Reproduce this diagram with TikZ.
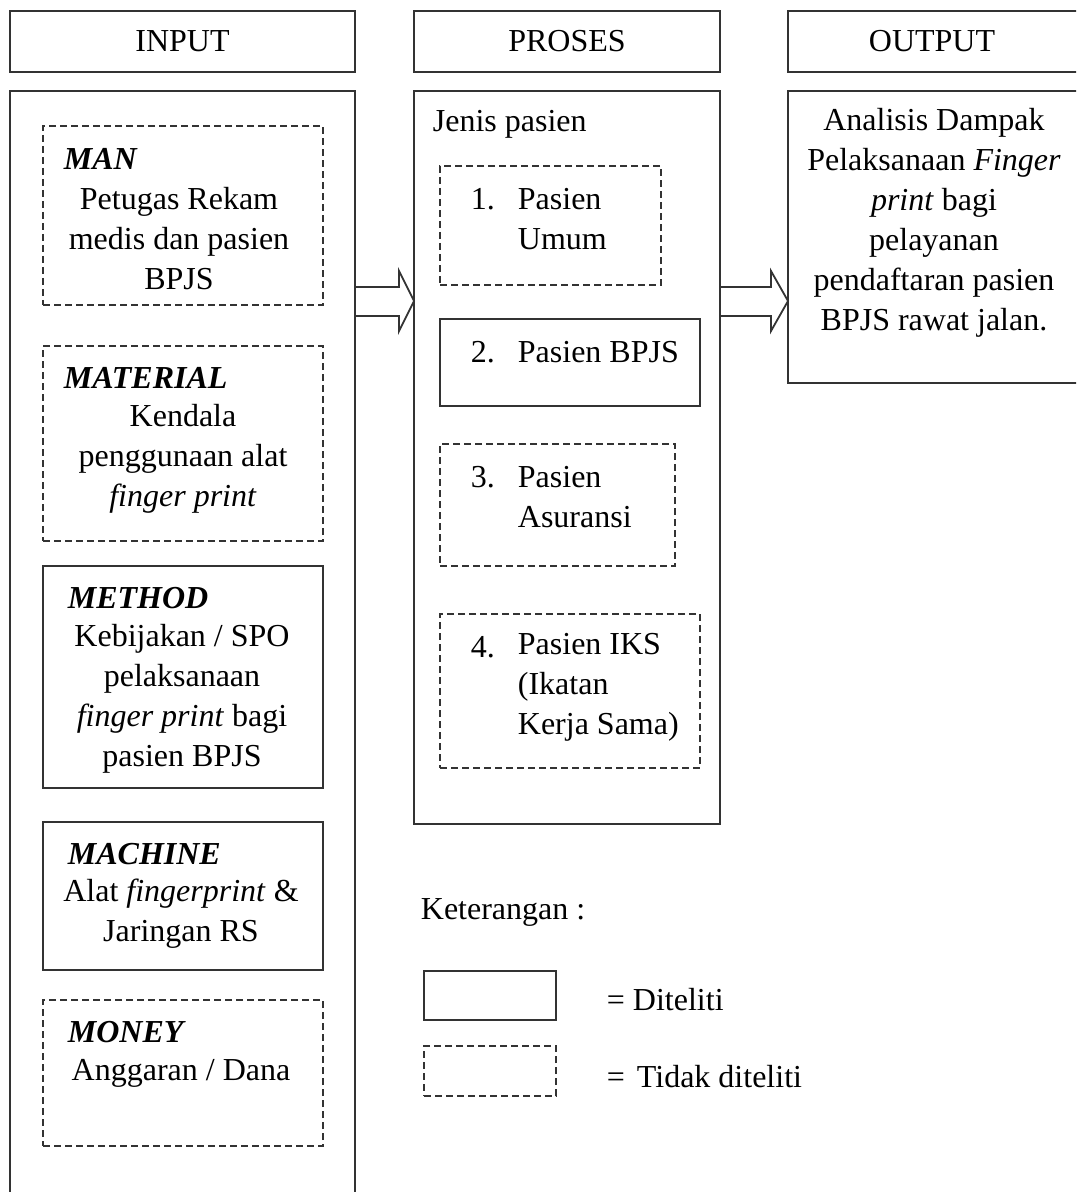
\documentclass[tikz,border=0pt]{standalone}
\usepackage{fontspec}
\setmainfont{Liberation Serif}
\begin{document}
\begin{tikzpicture}[x=0.5pt, y=-0.5pt, font=\fontsize{16pt}{20pt}\selectfont, line width=0.9pt]
      \tikzstyle{sbox} = [draw=black!80, rectangle, anchor=north west, inner sep=0pt, outer sep=0pt]
      \tikzstyle{dbox} = [sbox, dash pattern=on 3.5pt off 2pt]
      \tikzstyle{txt} = [inner sep=0pt, align=center, yshift=-1.5pt]
      \tikzstyle{ltxt} = [inner sep=0pt, align=left, anchor=west, yshift=-1.5pt]
      \tikzstyle{ttl} = [ltxt, font=\fontsize{16pt}{20pt}\selectfont\bfseries\itshape]
      \tikzstyle{blk} = [draw=black!80, line join=miter]
      \useasboundingbox (0,0) rectangle (1076,1192);
      \clip (0,0) rectangle (1076,1192);

      \node[sbox, minimum width=172.5pt, minimum height=30.5pt] (hinp) at (10,11) {INPUT};
      \node[sbox, minimum width=153pt, minimum height=30.5pt] (hpros) at (414,11) {PROSES};
      \node[sbox, minimum width=150pt, minimum height=30.5pt] (houtp) at (788,11) {\hspace{-6pt}OUTPUT};

      \node[sbox, minimum width=172.5pt, minimum height=555pt] (inp) at (10,91) {};
      \node[sbox, minimum width=153pt, minimum height=366.5pt] (pros) at (414,91) {};
      \node[sbox, minimum width=150pt, minimum height=146pt] (outp) at (788,91) {};

      \node[dbox, minimum width=140pt, minimum height=89.5pt] (man) at (43,126) {};
      \node[dbox, minimum width=140pt, minimum height=97.5pt] (mat) at (43,346) {};
      \node[sbox, minimum width=140pt, minimum height=111pt] (met) at (43,566) {};
      \node[sbox, minimum width=140pt, minimum height=74pt] (mac) at (43,822) {};
      \node[dbox, minimum width=140pt, minimum height=73pt] (mon) at (43,1000) {};

      \node[ttl] (lman) at (63,156) {MAN};
      \node[txt] (tman) at (179,236) {Petugas Rekam\\medis dan pasien\\BPJS};
      \node[ttl] (lmat) at (63,375) {MATERIAL};
      \node[txt] (tmat) at (183,456) {Kendala\\penggunaan alat\\\textit{finger print}};
      \node[ttl] (lmet) at (67,595) {METHOD};
      \node[txt] (tmet) at (182,696) {Kebijakan / SPO\\pelaksanaan\\\textit{finger print} bagi\\pasien BPJS};
      \node[ttl] (lmac) at (67,851) {MACHINE};
      \node[txt] (tmac) at (181,911) {Alat \textit{fingerprint} \&\\Jaringan RS};
      \node[ttl] (lmon) at (67,1029) {MONEY};
      \node[txt] (tmon) at (181,1070) {Anggaran / Dana};

      \node[ltxt] (jenis) at (432,121) {Jenis pasien};
      \node[dbox, minimum width=110.5pt, minimum height=59.5pt] (p1) at (440,166) {};
      \node[sbox, minimum width=130pt, minimum height=43.5pt] (p2) at (440,319) {};
      \node[dbox, minimum width=117.5pt, minimum height=61pt] (p3) at (440,444) {};
      \node[dbox, minimum width=130pt, minimum height=77pt] (p4) at (440,614) {};

      \node[ltxt] (n1) at (470,196) {1.};
      \node[ltxt] (t1) at (517,216) {Pasien\\Umum};
      \node[ltxt] (n2) at (470,349) {2.};
      \node[ltxt] (t2) at (517,349) {Pasien BPJS};
      \node[ltxt] (n3) at (470,474) {3.};
      \node[ltxt] (t3) at (517,494) {Pasien\\Asuransi};
      \node[ltxt] (n4) at (470,644) {4.};
      \node[ltxt] (t4) at (517,684) {Pasien IKS\\(Ikatan\\Kerja Sama)};

      \node[txt] (tout) at (934,220) {Analisis Dampak\\Pelaksanaan \textit{Finger}\\\textit{print} bagi\\pelayanan\\pendaftaran pasien\\BPJS rawat jalan.};

      \draw[blk] (inp.east |- 0,287) -- (399,287) -- (399,271) -- (pros.west |- 0,301) -- (399,331) -- (399,316) -- (inp.east |- 0,316);
      \draw[blk] (pros.east |- 0,287) -- (771,287) -- (771,271) -- (outp.west |- 0,301) -- (771,331) -- (771,316) -- (pros.east |- 0,316);

      \node[ltxt] (ket) at (420,909) {Keterangan :};
      \node[sbox, minimum width=66pt, minimum height=24.5pt] (lsol) at (424,971) {};
      \node[dbox, minimum width=66pt, minimum height=25pt] (ldash) at (424,1046) {};
      \node[ltxt] (tsol) at (606,997) {= Diteliti};
      \node[ltxt] (tdash) at (606,1074) {=\hspace{6pt}Tidak diteliti};
    \end{tikzpicture}
\end{document}
